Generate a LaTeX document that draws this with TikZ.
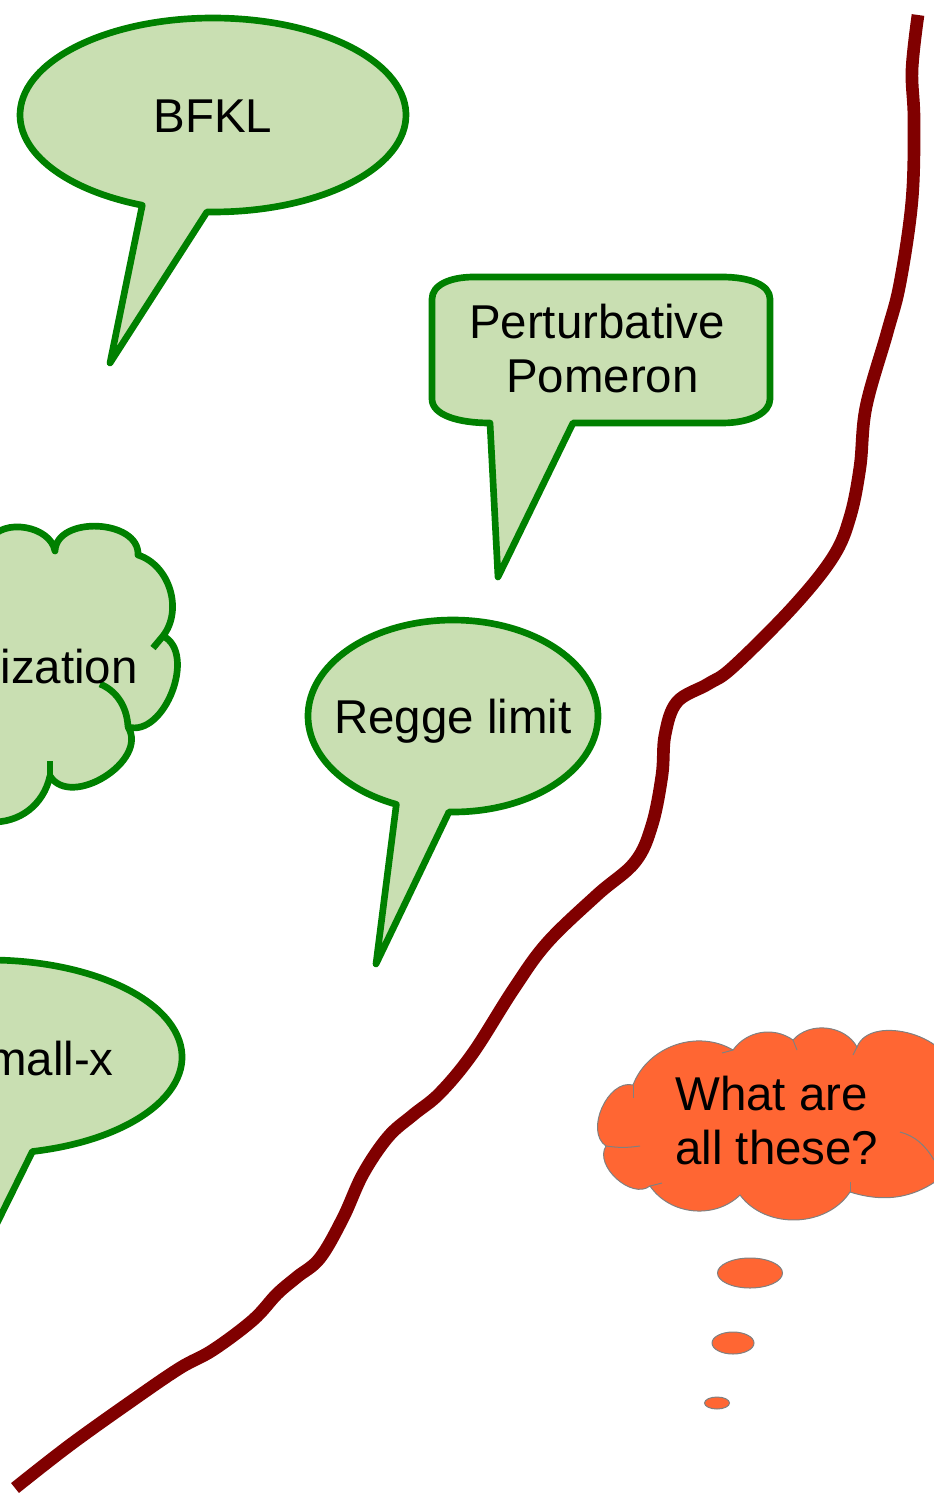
\documentclass[tikz,border=0pt]{standalone}
\usepackage{fontspec}
\setmainfont{Liberation Sans}
\usetikzlibrary{calc}
\definecolor{mgreen}{rgb}{0, 0.5, 0}
\definecolor{mleaf}{RGB}{201, 223, 178}
\definecolor{mmaroon}{rgb}{0.5, 0, 0}
\definecolor{morange}{RGB}{255, 102, 51}
\tikzset{bubble/.style = {draw=mgreen, fill=mleaf, line width=5pt, line join=round},
         notch/.style = {draw=mgreen, line width=5pt},
         thought/.style = {draw=gray, fill=morange, line width=0.75pt},
         crease/.style = {draw=gray, line width=0.75pt},
         saying/.style = {inner sep=0pt, font=\fontsize{35.6}{40.5}\selectfont}}

\begin{document}
\begin{tikzpicture}[x=0.75pt, y=-0.75pt]
    \useasboundingbox (0, 0) rectangle (934, 1494);
    \clip (0, 0) rectangle (934, 1494);

    % the rising line
    \draw [mmaroon, line width=9.5pt] plot [smooth, tension=0.6] coordinates {
        (15, 1488) (70, 1445) (133, 1400) (180, 1368) (213, 1350) (253, 1320)
        (277, 1294) (297, 1277) (320, 1258) (343, 1218) (363, 1174) (388, 1137)
        (413, 1115) (440, 1093) (473, 1053) (513, 990) (547, 943) (597, 895)
        (635, 862) (652, 825) (662, 775) (665, 735) (677, 702) (708, 684)
        (733, 667) (793, 607) (833, 557) (850, 517) (860, 467) (866, 407)
        (887, 333) (900, 283) (912, 200) (914, 120) (912, 70) (918, 15)};

    % BFKL
    \coordinate (bfkl) at (213, 115);
    \draw [bubble] ($(bfkl)+(111.5:193 and 97)$) -- (110, 363) -- ($(bfkl)+(91.8:193 and 97)$)
        arc [start angle=91.8, end angle=-248.5, x radius=193, y radius=97] -- cycle;
    \node [saying, anchor=base] (bfkltext) at (213, 133) {BFKL};

    % Perturbative Pomeron
    \draw [bubble] (490, 423) -- (498, 577) -- (573, 423) -- (722, 423)
        .. controls (750, 423) and (770, 413) .. (770, 399) -- (770, 299)
        .. controls (770, 285) and (750, 277) .. (722, 277) -- (474, 277)
        .. controls (450, 277) and (432, 285) .. (432, 299) -- (432, 399)
        .. controls (432, 415) and (458, 423) .. (490, 423) -- cycle;
    \node [saying, align=center, anchor=north] (pomerontext) at (597, 304) {Perturbative\\\hspace{8pt}Pomeron};

    % Regge limit
    \coordinate (regge) at (453, 716);
    \draw [bubble] ($(regge)+(113:145 and 96)$) -- (376, 964) -- ($(regge)+(91.6:145 and 96)$)
        arc [start angle=91.6, end angle=-247, x radius=145, y radius=96] -- cycle;
    \node [saying, anchor=base] (reggetext) at (453, 733) {Regge limit};

    % small-x
    \coordinate (smallx) at (-11, 1057);
    \draw [bubble] ($(smallx)+(100:193 and 97)$) -- (-41, 1300) -- ($(smallx)+(77:193 and 97)$)
        arc [start angle=77, end angle=-260, x radius=193, y radius=97] -- cycle;
    \node [saying, anchor=base east] (smallxtext) at (114, 1075) {small-x};

    % cloud
    \draw [bubble] (-10, 540) to [bend left=70] (55, 551)
        to [bend left=90, looseness=1.1] (138, 555) to [bend left=55] (163, 636)
        to [bend left=85] (128, 727) to [bend left=90, looseness=1.1] (50, 776)
        to [bend left=40] (-10, 822) -- cycle;
    \draw [notch] (163, 636) -- (153, 648);
    \draw [notch] (50, 776) -- (50, 761);
    \draw [notch] (128, 727) .. controls (127, 705) and (115, 690) .. (100, 684);
    \node [saying, anchor=base east] (factext) at (138, 683) {Factorization};

    % thought cloud
    \draw [thought] (633, 1085) to [bend left=50] (733, 1050) to [bend left=45] (793, 1040)
        to [bend left=55] (857, 1047) to [bend left=85] (950, 1075) -- (950, 1170)
        to [bend left=30] (850, 1192) to [bend left=55] (740, 1195)
        to [bend left=50] (650, 1186) to [bend left=80] (606, 1146)
        to [bend left=80] (633, 1085) -- cycle;
    \draw [crease] (606, 1146) to [bend right=8] (640, 1146);
    \draw [crease] (633, 1085) -- (633, 1098);
    \draw [crease] (650, 1186) -- (662, 1183);
    \draw [crease] (850, 1192) -- (850, 1182);
    \draw [crease] (733, 1050) -- (722, 1053);
    \draw [crease] (793, 1040) -- (797, 1050);
    \draw [crease] (857, 1047) -- (853, 1055);
    \draw [crease] (900, 1132) .. controls (915, 1136) and (925, 1145) .. (934, 1160);
    \node [saying, align=left, anchor=north west] (whattext) at (675, 1076) {What are\\all these?};

    \draw [thought] (750, 1273) ellipse [x radius=32.5, y radius=15];
    \draw [thought] (733, 1343) ellipse [x radius=21, y radius=11];
    \draw [thought] (717, 1403) ellipse [x radius=12.5, y radius=6];
\end{tikzpicture}
\end{document}
